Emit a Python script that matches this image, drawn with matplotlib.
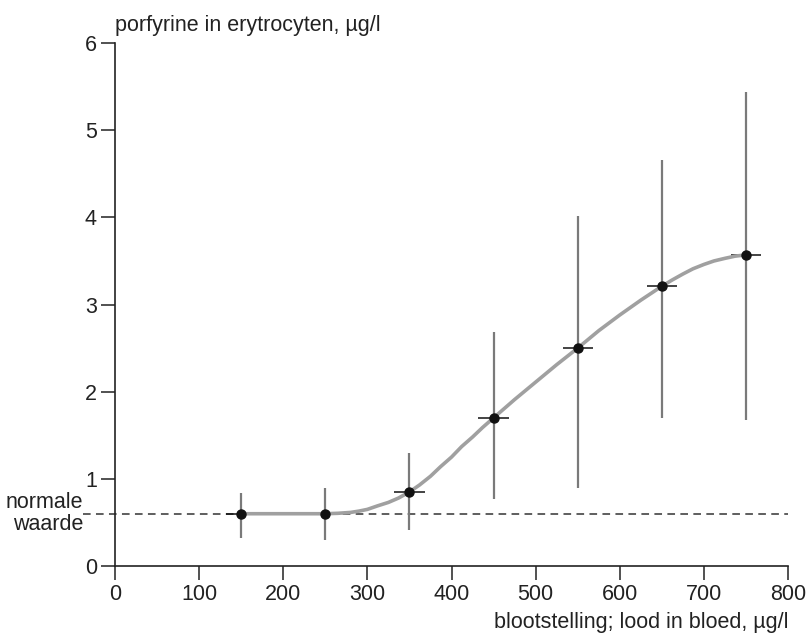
import matplotlib.pyplot as plt
import numpy as np

plt.rcParams['font.family'] = ['Liberation Sans', 'DejaVu Sans']

# measured points
lood = [150, 250, 350, 450, 550, 650, 750]
porf = [0.60, 0.60, 0.85, 1.70, 2.50, 3.21, 3.57]
porf_hoog = [0.84, 0.89, 1.30, 2.69, 4.02, 4.66, 5.44]
porf_laag = [0.32, 0.30, 0.41, 0.77, 0.90, 1.70, 1.67]
lood_err = 18

# fitted curve
curve_x = [150, 200, 250, 265, 280, 290, 300, 312, 325, 337, 350, 362, 375,
           387, 400, 412, 425, 437, 450, 475, 500, 525, 550, 575, 600, 625, 650,
           662, 675, 687, 700, 712, 725, 737, 750]
curve_y = [0.60, 0.60, 0.60, 0.605, 0.615, 0.63, 0.65, 0.69, 0.73, 0.78, 0.85,
           0.93, 1.03, 1.14, 1.25, 1.37, 1.48, 1.59, 1.70, 1.91, 2.11, 2.31,
           2.50, 2.70, 2.88, 3.05, 3.21, 3.28, 3.35, 3.41, 3.46, 3.50, 3.53,
           3.555, 3.57]

normaal = 0.6

fig = plt.figure(figsize=(8.07, 6.33), dpi=100)
ax = fig.add_axes([0.1425, 0.1058, 0.8340, 0.8262])

ax.plot([-38, 800], [normaal, normaal], ls=(0, (5, 3.5)), color='#333333',
        lw=1.1, clip_on=False, zorder=1)

ax.vlines(lood, porf_laag, porf_hoog, color='#7a7a7a', lw=1.6, zorder=2)
ax.hlines(porf, np.array(lood) - lood_err, np.array(lood) + lood_err,
          color='#111111', lw=1.1, zorder=2)
ax.plot(curve_x, curve_y, color='#a0a0a0', lw=2.6, zorder=3,
        solid_capstyle='round', solid_joinstyle='round')
ax.plot(lood, porf, 'o', color='#111111', ms=6.5, zorder=4)

ax.set_xlim(0, 800)
ax.set_ylim(0, 6)
ax.set_xticks(range(0, 801, 100))
ax.set_yticks(range(0, 7))
ax.spines['top'].set_visible(False)
ax.spines['right'].set_visible(False)
for s in ['left', 'bottom']:
    ax.spines[s].set_linewidth(1.2)
    ax.spines[s].set_color('#222222')
ax.tick_params(direction='out', length=10, width=1.1, labelsize=15.5,
               color='#222222', labelcolor='#222222', pad=3)

fig.text(0.1425, 0.960, 'porfyrine in erytrocyten, µg/l', fontsize=15.5,
         ha='left', va='center', color='#222222')
fig.text(0.9765, 0.017, 'blootstelling; lood in bloed, µg/l', fontsize=15.5,
         ha='right', va='center', color='#222222')
ax.text(-38, normaal, 'normale\nwaarde', fontsize=15.5, ha='right', va='center',
        color='#222222', linespacing=1.05)

fig.savefig('out.png', dpi=100)
